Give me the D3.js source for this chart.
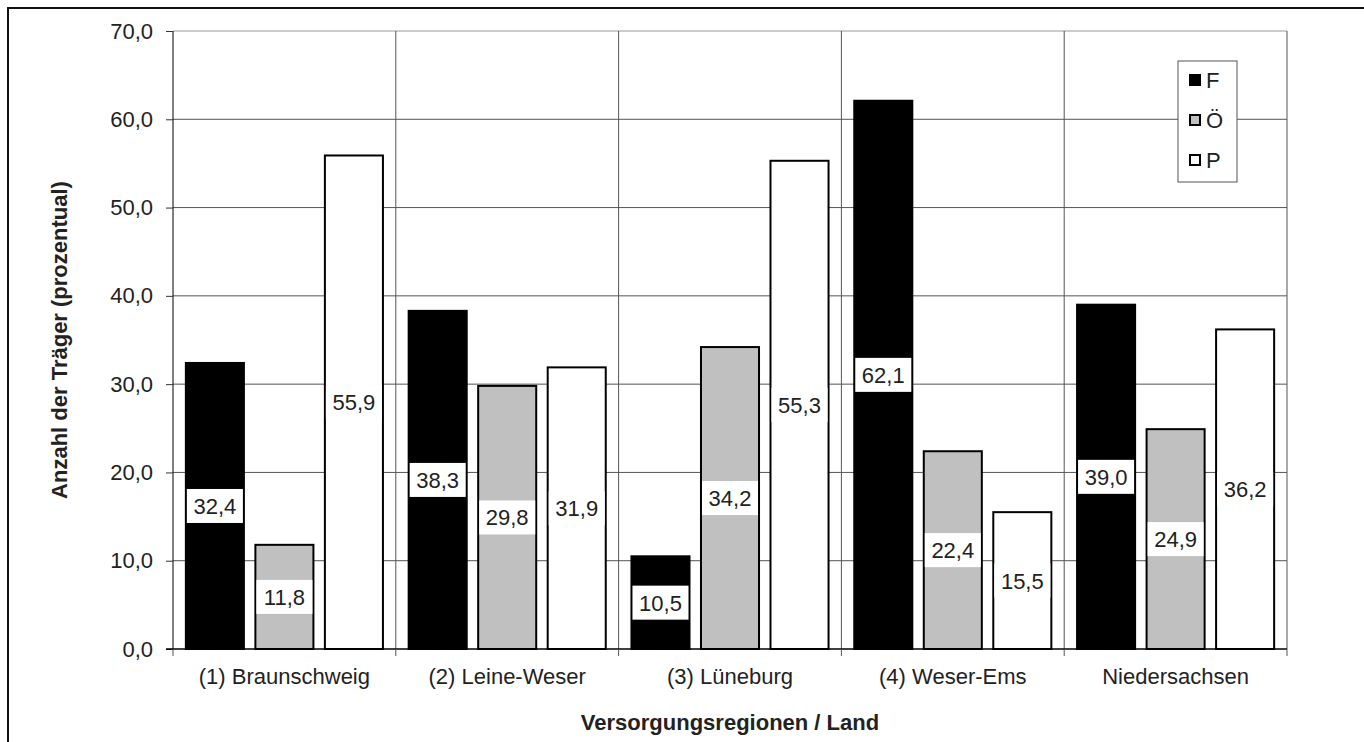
<!DOCTYPE html>
<html>
<head>
<meta charset="utf-8">
<script src="https://cdn.jsdelivr.net/npm/d3@7"></script>
<style>
  body { margin: 0; background: #fff; }
  text { font-family: "Liberation Sans", Arial, sans-serif; fill: #222; }
</style>
</head>
<body>
<div id="chart"></div>
<script>
// Daten
const regions = ["(1) Braunschweig", "(2) Leine-Weser", "(3) Lüneburg", "(4) Weser-Ems", "Niedersachsen"];
const seriesNames = ["F", "Ö", "P"];
const valuesF = [32.4, 38.3, 10.5, 62.1, 39.0];
const valuesOe = [11.8, 29.8, 34.2, 22.4, 24.9];
const valuesP = [55.9, 31.9, 55.3, 15.5, 36.2];
const yTicks = [0, 10, 20, 30, 40, 50, 60, 70];

const seriesValues = [valuesF, valuesOe, valuesP];
const fills = { "F": "#000", "Ö": "#c0c0c0", "P": "#fff" };

const width = 1364, height = 742;
const margin = { top: 31, right: 77, bottom: 93, left: 173 };
const innerW = width - margin.left - margin.right;
const innerH = height - margin.top - margin.bottom;
const fontSize = 22;

const svg = d3.select("#chart").append("svg")
    .attr("width", width)
    .attr("height", height);

// äußerer Rahmen
svg.append("rect")
    .attr("x", 8).attr("y", 8)
    .attr("width", width).attr("height", height)
    .attr("fill", "none")
    .attr("stroke", "#111")
    .attr("stroke-width", 2);

const g = svg.append("g").attr("transform", `translate(${margin.left},${margin.top})`);

const x0 = d3.scaleBand().domain(regions).range([0, innerW]);
const x1 = d3.scaleBand().domain(seriesNames).range([0, x0.bandwidth()])
    .paddingInner(0.165).paddingOuter(0.185);
const y = d3.scaleLinear().domain([0, 70]).range([innerH, 0]);

const fmt = v => d3.format(".1f")(v).replace(".", ",");

// Gitternetz horizontal
g.append("g")
    .selectAll("line")
    .data(yTicks.filter(d => d > 0))
    .enter().append("line")
    .attr("x1", 0).attr("x2", innerW)
    .attr("y1", d => y(d)).attr("y2", d => y(d))
    .attr("stroke", d => d === 70 ? "#999" : "#555")
    .attr("stroke-width", 1);

// Gitternetz vertikal (Kategoriengrenzen)
g.append("g")
    .selectAll("line")
    .data(regions.slice(1))
    .enter().append("line")
    .attr("x1", d => x0(d)).attr("x2", d => x0(d))
    .attr("y1", 0).attr("y2", innerH)
    .attr("stroke", "#555")
    .attr("stroke-width", 1);

// rechter Rand
g.append("line")
    .attr("x1", innerW).attr("x2", innerW)
    .attr("y1", 0).attr("y2", innerH)
    .attr("stroke", "#555");

// Balken
const groups = g.append("g")
    .selectAll("g")
    .data(regions)
    .enter().append("g")
    .attr("transform", d => `translate(${x0(d)},0)`);

const barData = (region, i) => seriesNames.map((s, k) => ({ s, v: seriesValues[k][i] }));

groups.selectAll("rect.bar")
    .data(barData)
    .enter().append("rect")
    .attr("class", "bar")
    .attr("x", d => x1(d.s))
    .attr("y", d => y(d.v))
    .attr("width", x1.bandwidth())
    .attr("height", d => innerH - y(d.v))
    .attr("fill", d => fills[d.s])
    .attr("stroke", "#000")
    .attr("stroke-width", 2);

// Datenbeschriftung
groups.selectAll("rect.lbl")
    .data(barData)
    .enter().append("rect")
    .attr("class", "lbl")
    .attr("x", d => x1(d.s) + 1)
    .attr("y", d => y(d.v / 2) - 17)
    .attr("width", x1.bandwidth() - 2)
    .attr("height", 34)
    .attr("fill", "#fff");

groups.selectAll("text.val")
    .data(barData)
    .enter().append("text")
    .attr("class", "val")
    .attr("x", d => x1(d.s) + x1.bandwidth() / 2)
    .attr("y", d => y(d.v / 2) + 8)
    .attr("text-anchor", "middle")
    .attr("font-size", fontSize)
    .text(d => fmt(d.v));

// Y-Achse
const yAxis = g.append("g")
    .call(d3.axisLeft(y).tickValues(yTicks).tickSize(7).tickPadding(13).tickFormat(fmt));
yAxis.select(".domain").attr("stroke", "#000").attr("d", `M0,0V${innerH}`);
yAxis.selectAll(".tick line").attr("stroke", "#333");
yAxis.selectAll("text")
    .attr("font-size", fontSize)
    .attr("font-family", "Liberation Sans, Arial, sans-serif")
    .attr("fill", "#222");

// X-Achse
const xAxisG = g.append("g").attr("transform", `translate(0,${innerH})`);
xAxisG.append("line")
    .attr("x1", -7).attr("x2", innerW)
    .attr("stroke", "#000").attr("stroke-width", 1.5);
xAxisG.selectAll("line.tk")
    .data(regions.concat(["end"]))
    .enter().append("line")
    .attr("class", "tk")
    .attr("x1", (d, i) => i * x0.step()).attr("x2", (d, i) => i * x0.step())
    .attr("y1", 0).attr("y2", 7)
    .attr("stroke", "#555");
xAxisG.selectAll("text")
    .data(regions)
    .enter().append("text")
    .attr("x", d => x0(d) + x0.bandwidth() / 2)
    .attr("y", 35)
    .attr("text-anchor", "middle")
    .attr("font-size", fontSize)
    .text(d => d);

// Achsentitel
svg.append("text")
    .attr("transform", `translate(67,${margin.top + innerH / 2}) rotate(-90)`)
    .attr("text-anchor", "middle")
    .attr("font-size", fontSize)
    .attr("font-weight", "bold")
    .text("Anzahl der Träger (prozentual)");

svg.append("text")
    .attr("x", margin.left + innerW / 2)
    .attr("y", 730)
    .attr("text-anchor", "middle")
    .attr("font-size", fontSize)
    .attr("font-weight", "bold")
    .text("Versorgungsregionen / Land");

// Legende
const legend = svg.append("g").attr("transform", "translate(1178,61)");
legend.append("rect")
    .attr("width", 59).attr("height", 121)
    .attr("fill", "#fff")
    .attr("stroke", "#555");
const items = legend.selectAll("g")
    .data(seriesNames)
    .enter().append("g")
    .attr("transform", (d, i) => `translate(0,${19 + i * 40})`);
items.append("rect")
    .attr("x", 12).attr("y", -5)
    .attr("width", 10).attr("height", 10)
    .attr("fill", d => fills[d])
    .attr("stroke", "#000")
    .attr("stroke-width", 2);
items.append("text")
    .attr("x", 28).attr("y", 8)
    .attr("font-size", fontSize)
    .text(d => d);
</script>
</body>
</html>
